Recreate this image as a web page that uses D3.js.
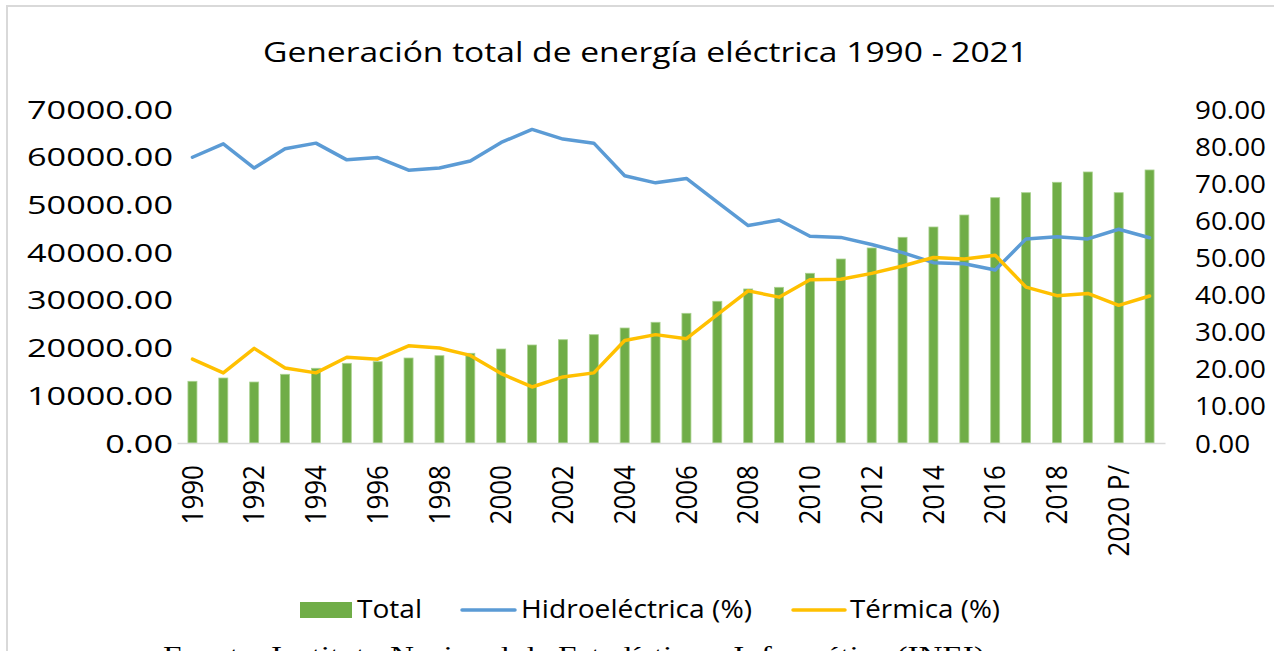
<!DOCTYPE html>
<html lang="es">
<head>
<meta charset="utf-8">
<title>Generación total de energía eléctrica 1990 - 2021</title>
<script src="https://d3js.org/d3.v7.min.js"></script>
<style>
  body { margin: 0; background: #fff; }
  svg { display: block; }
  .tick line { display: none; }
</style>
</head>
<body>
<script>
// Datos
var years = ["1990","1991","1992","1993","1994","1995","1996","1997","1998","1999",
             "2000","2001","2002","2003","2004","2005","2006","2007","2008","2009",
             "2010","2011","2012","2013","2014","2015","2016","2017","2018","2019",
             "2020 P/","2021"];
var total = [12930, 13620, 12780, 14400, 15660, 16700, 17040, 17810, 18300, 18800,
             19700, 20540, 21650, 22700, 24100, 25300, 27180, 29700, 32280, 32630,
             35570, 38560, 40870, 43110, 45270, 47780, 51410, 52460, 54640, 56800,
             52460, 57220];
var hidro = [77.0, 80.6, 74.1, 79.3, 80.8, 76.3, 76.9, 73.5, 74.1, 76.0,
             81.0, 84.5, 81.9, 80.8, 72.0, 70.1, 71.3, 64.9, 58.6, 60.1,
             55.7, 55.4, 53.5, 51.3, 48.6, 48.3, 46.6, 55.0, 55.6, 55.0,
             57.6, 55.3];
var termica = [22.6, 18.9, 25.5, 20.2, 18.9, 23.1, 22.6, 26.2, 25.6, 23.6,
               18.7, 15.1, 17.8, 18.9, 27.6, 29.2, 28.1, 34.6, 41.0, 39.3,
               44.0, 44.1, 45.7, 47.7, 50.0, 49.6, 50.6, 42.0, 39.7, 40.3,
               37.1, 39.6];
var leftTicks = [0, 10000, 20000, 30000, 40000, 50000, 60000, 70000];
var rightTicks = [0, 10, 20, 30, 40, 50, 60, 70, 80, 90];

var w = 1274, h = 651;
var font = "'Open Sans', 'Noto Sans', sans-serif";

var svg = d3.select("body").append("svg")
    .attr("width", w)
    .attr("height", h);

// marco
svg.append("rect")
    .attr("x", 7).attr("y", 6)
    .attr("width", 1300).attr("height", 700)
    .attr("fill", "none")
    .attr("stroke", "#d9d9d9")
    .attr("stroke-width", 2);

// escalas
var x = d3.scaleBand().domain(years).range([177, 1165]);
var yL = d3.scaleLinear().domain([0, 70000]).range([443, 109]);
var yR = d3.scaleLinear().domain([0, 90]).range([443, 109]);

// estira el texto por un factor
function stretch(sel, k) {
    sel.each(function() {
        var len = this.getComputedTextLength();
        d3.select(this).attr("textLength", len * k).attr("lengthAdjust", "spacingAndGlyphs");
    });
}

// titulo
svg.append("text")
    .attr("x", 263).attr("y", 62)
    .attr("font-family", font).attr("font-size", 28)
    .attr("fill", "#000")
    .attr("textLength", 765).attr("lengthAdjust", "spacingAndGlyphs")
    .text("Generación total de energía eléctrica 1990 - 2021");

// barras
svg.append("g").selectAll("rect")
    .data(total)
    .enter()
    .append("rect")
    .attr("x", function(d, i) { return x(years[i]) + x.bandwidth() / 2 - 4.5; })
    .attr("y", function(d) { return yL(d); })
    .attr("width", 9)
    .attr("height", function(d) { return yL(0) - yL(d); })
    .attr("fill", "#70ad47")
    .attr("stroke", "#a9d18e")
    .attr("stroke-width", 0.8);

// lineas
var cx = function(d, i) { return x(years[i]) + x.bandwidth() / 2; };
var line = d3.line().x(cx).y(function(d) { return yR(d); });

svg.append("path")
    .datum(hidro)
    .attr("d", line)
    .attr("fill", "none")
    .attr("stroke", "#5b9bd5")
    .attr("stroke-width", 3.5)
    .attr("stroke-linejoin", "round")
    .attr("stroke-linecap", "round");

svg.append("path")
    .datum(termica)
    .attr("d", line)
    .attr("fill", "none")
    .attr("stroke", "#ffc000")
    .attr("stroke-width", 3.5)
    .attr("stroke-linejoin", "round")
    .attr("stroke-linecap", "round");

// eje izquierdo
var gL = svg.append("g")
    .attr("transform", "translate(173,0)")
    .call(d3.axisLeft(yL).tickValues(leftTicks).tickFormat(d3.format(".2f")).tickSize(0).tickPadding(0));
gL.select(".domain").remove();
gL.selectAll("text")
    .attr("font-family", font).attr("font-size", 25).attr("fill", "#000").attr("dy", "0.36em");
var kL = 146 / gL.selectAll("text").filter(function(d) { return d === 70000; }).node().getComputedTextLength();
stretch(gL.selectAll("text"), kL);

// eje derecho
var gR = svg.append("g")
    .attr("transform", "translate(1195,0)")
    .call(d3.axisRight(yR).tickValues(rightTicks).tickFormat(d3.format(".2f")).tickSize(0).tickPadding(0));
gR.select(".domain").remove();
gR.selectAll("text")
    .attr("font-family", font).attr("font-size", 25).attr("fill", "#000").attr("dy", "0.36em");
var kR = 71 / gR.selectAll("text").filter(function(d) { return d === 90; }).node().getComputedTextLength();
stretch(gR.selectAll("text"), kR);

// eje x (etiquetas verticales, cada dos años)
var gX = svg.append("g")
    .attr("transform", "translate(0,443)")
    .call(d3.axisBottom(x)
        .tickValues(years.filter(function(d, i) { return i % 2 === 0; }))
        .tickSize(0).tickSizeOuter(0));
gX.select(".domain")
    .attr("stroke", "#d9d9d9")
    .attr("stroke-width", 1.5);
gX.selectAll("text")
    .attr("font-family", font).attr("font-size", 26).attr("fill", "#000")
    .attr("x", 0).attr("y", 0).attr("dy", "0.36em")
    .attr("text-anchor", "end")
    .attr("transform", "translate(0,22) scale(1.1,1) rotate(-90)");

// leyenda
var legend = svg.append("g")
    .attr("font-family", font).attr("font-size", 25).attr("fill", "#000");
legend.append("rect")
    .attr("x", 300).attr("y", 602).attr("width", 52).attr("height", 16)
    .attr("fill", "#70ad47");
legend.append("text")
    .attr("x", 357).attr("y", 618)
    .attr("textLength", 65).attr("lengthAdjust", "spacingAndGlyphs")
    .text("Total");
legend.append("line")
    .attr("x1", 462).attr("x2", 515).attr("y1", 610).attr("y2", 610)
    .attr("stroke", "#5b9bd5").attr("stroke-width", 3.5).attr("stroke-linecap", "round");
legend.append("text")
    .attr("x", 521).attr("y", 618)
    .attr("textLength", 231).attr("lengthAdjust", "spacingAndGlyphs")
    .text("Hidroeléctrica (%)");
legend.append("line")
    .attr("x1", 793).attr("x2", 845).attr("y1", 610).attr("y2", 610)
    .attr("stroke", "#ffc000").attr("stroke-width", 3.5).attr("stroke-linecap", "round");
legend.append("text")
    .attr("x", 850).attr("y", 618)
    .attr("textLength", 150).attr("lengthAdjust", "spacingAndGlyphs")
    .text("Térmica (%)");

// fuente (cortada abajo, como en el original)
svg.append("text")
    .attr("x", 163).attr("y", 664)
    .attr("font-family", "'Liberation Serif', 'Times New Roman', serif")
    .attr("font-size", 26).attr("fill", "#000")
    .attr("textLength", 822).attr("lengthAdjust", "spacingAndGlyphs")
    .text("Fuente: Instituto Nacional de Estadística e Informática (INEI)");
</script>
</body>
</html>
